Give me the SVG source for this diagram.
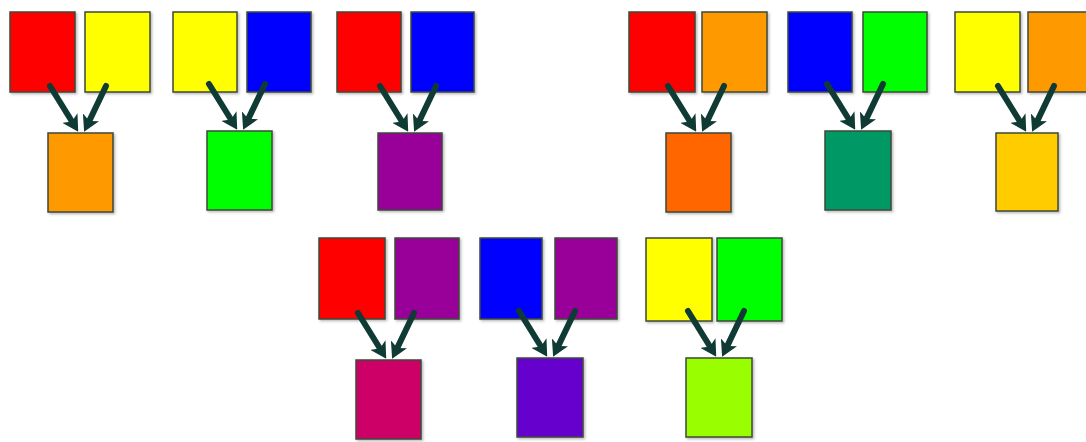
<svg xmlns="http://www.w3.org/2000/svg" width="1086" height="442" viewBox="0 0 1086 442">
<style>
rect.c{stroke:#3d4a3a;stroke-width:1.5;filter:url(#sh)}
.a{fill:none;stroke:#0f3b34;stroke-width:6;stroke-linecap:round;marker-end:url(#ah)}
</style>
<defs>
<filter id="sh" x="-10%" y="-10%" width="130%" height="130%"><feDropShadow dx="1.5" dy="1.5" stdDeviation="1" flood-color="#666" flood-opacity="0.45"/></filter>
<marker id="ah" markerUnits="userSpaceOnUse" viewBox="0 0 16 18" markerWidth="16" markerHeight="18" refX="7" refY="9" orient="auto"><path d="M0,0 L16,9 L0,18 L4,9 z" fill="#0f3b34"/></marker>
</defs>
<rect width="1086" height="442" fill="#ffffff"/>
<g id="g1-red"><rect class="c" x="10" y="12" width="65" height="80" fill="#ff0000"/></g>
<g id="g1-yellow"><rect class="c" x="85" y="12" width="65" height="80" fill="#ffff00"/></g>
<g id="g1-orange"><rect class="c" x="48" y="133" width="65" height="79" fill="#ff9900"/></g>
<g id="g2-yellow"><rect class="c" x="173" y="12" width="64" height="80" fill="#ffff00"/></g>
<g id="g2-blue"><rect class="c" x="247" y="12" width="64" height="80" fill="#0000ff"/></g>
<g id="g2-green"><rect class="c" x="207" y="131" width="65" height="79" fill="#00ff00"/></g>
<g id="g3-red"><rect class="c" x="337" y="12" width="64" height="80" fill="#ff0000"/></g>
<g id="g3-blue"><rect class="c" x="411" y="12" width="63" height="80" fill="#0000ff"/></g>
<g id="g3-purple"><rect class="c" x="378" y="133" width="64" height="77" fill="#990099"/></g>
<g id="g4-red"><rect class="c" x="629" y="12" width="66" height="80" fill="#ff0000"/></g>
<g id="g4-orange"><rect class="c" x="702" y="12" width="65" height="80" fill="#ff9900"/></g>
<g id="g4-darkorange"><rect class="c" x="666" y="133" width="65" height="79" fill="#ff6600"/></g>
<g id="g5-blue"><rect class="c" x="788" y="12" width="64" height="80" fill="#0000ff"/></g>
<g id="g5-green"><rect class="c" x="863" y="12" width="64" height="80" fill="#00ff00"/></g>
<g id="g5-teal"><rect class="c" x="825" y="131" width="66" height="79" fill="#009966"/></g>
<g id="g6-yellow"><rect class="c" x="955" y="12" width="65" height="80" fill="#ffff00"/></g>
<g id="g6-orange"><rect class="c" x="1028" y="12" width="64" height="80" fill="#ff9900"/></g>
<g id="g6-gold"><rect class="c" x="996" y="133" width="62" height="78" fill="#ffcc00"/></g>
<g id="g7-red"><rect class="c" x="319" y="238" width="66" height="81" fill="#ff0000"/></g>
<g id="g7-purple"><rect class="c" x="395" y="238" width="64" height="81" fill="#990099"/></g>
<g id="g7-magenta"><rect class="c" x="356" y="360" width="65" height="79" fill="#cc0066"/></g>
<g id="g8-blue"><rect class="c" x="480" y="238" width="62" height="81" fill="#0000ff"/></g>
<g id="g8-purple"><rect class="c" x="555" y="238" width="62" height="81" fill="#990099"/></g>
<g id="g8-violet"><rect class="c" x="517" y="358" width="66" height="79" fill="#6600cc"/></g>
<g id="g9-yellow"><rect class="c" x="646" y="238" width="66" height="83" fill="#ffff00"/></g>
<g id="g9-green"><rect class="c" x="717" y="238" width="65" height="83" fill="#00ff00"/></g>
<g id="g9-lime"><rect class="c" x="686" y="358" width="66" height="79" fill="#99ff00"/></g>
<g id="connectors">
<g transform="translate(80.5,133)"><path class="a" d="M-30.5,-47 L-7,-9"/><path class="a" d="M25.5,-47 L7.5,-9.4"/></g>
<g transform="translate(239.5,131)"><path class="a" d="M-30.5,-47 L-7,-9"/><path class="a" d="M25.5,-47 L7.5,-9.4"/></g>
<g transform="translate(410.5,133)"><path class="a" d="M-30.5,-47 L-7,-9"/><path class="a" d="M25.5,-47 L7.5,-9.4"/></g>
<g transform="translate(698.5,133)"><path class="a" d="M-30.5,-47 L-7,-9"/><path class="a" d="M25.5,-47 L7.5,-9.4"/></g>
<g transform="translate(857.5,131)"><path class="a" d="M-30.5,-47 L-7,-9"/><path class="a" d="M25.5,-47 L7.5,-9.4"/></g>
<g transform="translate(1028.5,133)"><path class="a" d="M-30.5,-47 L-7,-9"/><path class="a" d="M25.5,-47 L7.5,-9.4"/></g>
<g transform="translate(388.5,360)"><path class="a" d="M-30.5,-47 L-7,-9"/><path class="a" d="M25.5,-47 L7.5,-9.4"/></g>
<g transform="translate(549.5,358)"><path class="a" d="M-30.5,-47 L-7,-9"/><path class="a" d="M25.5,-47 L7.5,-9.4"/></g>
<g transform="translate(718.5,358)"><path class="a" d="M-30.5,-47 L-7,-9"/><path class="a" d="M25.5,-47 L7.5,-9.4"/></g>
</g>
</svg>
